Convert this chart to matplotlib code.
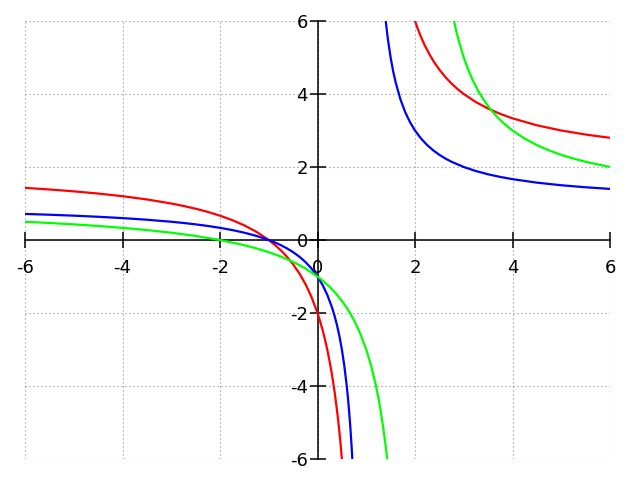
import matplotlib
matplotlib.use("Agg")
import matplotlib.pyplot as plt

# values, one list pair per branch
red_left_x = [-6, -5.5, -5, -4.5, -4, -3.5, -3, -2.75, -2.5, -2.25, -2, -1.75,
              -1.5, -1.25, -1, -0.875, -0.75, -0.625, -0.5, -0.375, -0.25,
              -0.125, 0, 0.05, 0.1, 0.15, 0.2, 0.25, 0.3, 0.35, 0.4, 0.425,
              0.45, 0.475, 0.5]
red_left_y = [1.4286, 1.3846, 1.3333, 1.2727, 1.2, 1.1111, 1.0, 0.9333, 0.8571,
              0.7692, 0.6667, 0.5455, 0.4, 0.2222, 0.0, -0.1333, -0.2857,
              -0.4615, -0.6667, -0.9091, -1.2, -1.5556, -2.0, -2.2105, -2.4444,
              -2.7059, -3.0, -3.3333, -3.7143, -4.1538, -4.6667, -4.9565,
              -5.2727, -5.6190, -6.0]
red_right_x = [2, 2.05, 2.1, 2.15, 2.2, 2.3, 2.4, 2.5, 2.625, 2.75, 2.875, 3,
               3.25, 3.5, 3.75, 4, 4.5, 5, 5.5, 6]
red_right_y = [6.0, 5.8095, 5.6364, 5.4783, 5.3333, 5.0769, 4.8571, 4.6667,
               4.4615, 4.2857, 4.1333, 4.0, 3.7778, 3.6, 3.4545, 3.3333, 3.1429,
               3.0, 2.8889, 2.8]

blue_left_x = [-6, -5.5, -5, -4.5, -4, -3.5, -3, -2.75, -2.5, -2.25, -2, -1.75,
               -1.5, -1.25, -1, -0.875, -0.75, -0.625, -0.5, -0.375, -0.25,
               -0.125, 0, 0.1, 0.2, 0.3, 0.35, 0.4, 0.45, 0.5, 0.55, 0.6, 0.625,
               0.65, 0.675, 0.7, 0.7143]
blue_left_y = [0.7143, 0.6923, 0.6667, 0.6364, 0.6, 0.5556, 0.5, 0.4667, 0.4286,
               0.3846, 0.3333, 0.2727, 0.2, 0.1111, 0.0, -0.0667, -0.1429,
               -0.2308, -0.3333, -0.4545, -0.6, -0.7778, -1.0, -1.2222, -1.5,
               -1.8571, -2.0769, -2.3333, -2.6364, -3.0, -3.4444, -4.0, -4.3333,
               -4.7143, -5.1538, -5.6667, -6.0]
blue_right_x = [1.4, 1.425, 1.45, 1.5, 1.55, 1.6, 1.7, 1.8, 1.9, 2, 2.125, 2.25,
                2.375, 2.5, 2.625, 2.75, 3, 3.25, 3.5, 3.75, 4, 4.5, 5, 5.5, 6]
blue_right_y = [6.0, 5.7059, 5.4444, 5.0, 4.6364, 4.3333, 3.8571, 3.5, 3.2222,
                3.0, 2.7778, 2.6, 2.4545, 2.3333, 2.2308, 2.1429, 2.0, 1.8889,
                1.8, 1.7273, 1.6667, 1.5714, 1.5, 1.4444, 1.4]

green_left_x = [-6, -5.5, -5, -4.5, -4, -3.5, -3, -2.5, -2, -1.5, -1.25, -1,
                -0.75, -0.5, -0.25, 0, 0.125, 0.25, 0.375, 0.5, 0.625, 0.75,
                0.875, 1, 1.1, 1.2, 1.25, 1.3, 1.35, 1.4, 1.4286]
green_left_y = [0.5, 0.4667, 0.4286, 0.3846, 0.3333, 0.2727, 0.2, 0.1111, 0.0,
                -0.1429, -0.2308, -0.3333, -0.4545, -0.6, -0.7778, -1.0,
                -1.1333, -1.2857, -1.4615, -1.6667, -1.9091, -2.2, -2.5556,
                -3.0, -3.4444, -4.0, -4.3333, -4.7143, -5.1538, -5.6667, -6.0]
green_right_x = [2.8, 2.85, 2.9, 3, 3.1, 3.2, 3.3, 3.4, 3.5, 3.6, 3.7, 3.8, 3.9,
                 4, 4.25, 4.5, 4.75, 5, 5.25, 5.5, 6]
green_right_y = [6.0, 5.7059, 5.4444, 5.0, 4.6364, 4.3333, 4.0769, 3.8571,
                 3.6667, 3.5, 3.3529, 3.2222, 3.1053, 3.0, 2.7778, 2.6, 2.4545,
                 2.3333, 2.2308, 2.1429, 2.0]

ticks = [-6, -4, -2, 0, 2, 4, 6]

plt.rcParams["axes.unicode_minus"] = False

fig = plt.figure(figsize=(6.4, 4.8), dpi=100)
ax = fig.add_axes([25 / 640, 21 / 480, 585 / 640, 438 / 480])

lw = 1.6
style = dict(lw=lw, solid_joinstyle="round", solid_capstyle="butt")
ax.plot(red_left_x, red_left_y, color="#ff0000", **style)
ax.plot(red_right_x, red_right_y, color="#ff0000", **style)
ax.plot(blue_left_x, blue_left_y, color="#0000ff", **style)
ax.plot(blue_right_x, blue_right_y, color="#0000ff", **style)
ax.plot(green_left_x, green_left_y, color="#00ff00", **style)
ax.plot(green_right_x, green_right_y, color="#00ff00", **style)

ax.set_xlim(-6, 6)
ax.set_ylim(-6, 6)
ax.set_xticks(ticks)
ax.set_yticks(ticks)
ax.set_xticklabels([str(t) for t in ticks])
ax.set_yticklabels([str(t) for t in ticks])

# axis lines through the origin
for side in ("top", "right"):
    ax.spines[side].set_visible(False)
ax.spines["left"].set_position(("data", 0))
ax.spines["bottom"].set_position(("data", 0))
for side in ("left", "bottom"):
    ax.spines[side].set_linewidth(1.1)
    ax.spines[side].set_zorder(1)

ax.tick_params(axis="both", direction="inout", length=11, width=1.1,
               labelsize=13)
ax.tick_params(axis="x", pad=8.5)
ax.tick_params(axis="y", pad=1.5)

ax.grid(True, color="#888888", linestyle=(0, (1, 2.6)), linewidth=0.8)
ax.set_axisbelow(True)

fig.savefig("out.png", dpi=100)
